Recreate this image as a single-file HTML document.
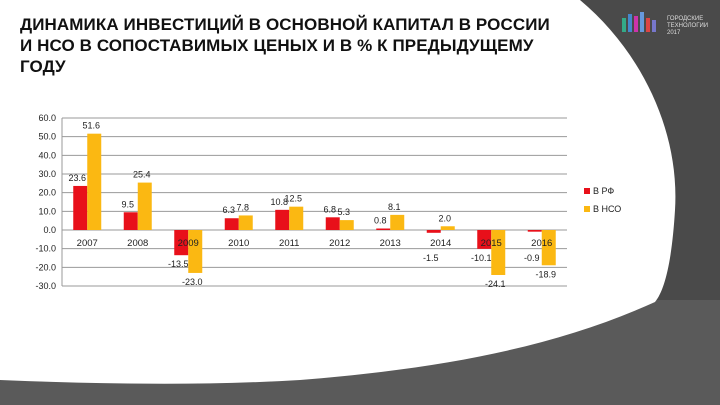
<!DOCTYPE html>
<html><head><meta charset="utf-8"><style>
body{margin:0;width:720px;height:405px;overflow:hidden;background:#4a4a4a;font-family:"Liberation Sans",sans-serif;}
#bg{position:absolute;left:0;top:0}
#title{position:absolute;left:20px;top:14px;font-size:17px;font-weight:bold;line-height:21px;color:#111;letter-spacing:0.1px}
#logo{position:absolute;left:667px;top:16px;font-size:6px;color:#ddd;line-height:7px}
</style></head><body>
<svg id="bg" width="720" height="405">
<rect x="0" y="300" width="720" height="105" fill="#5a5a5a"/>
<path d="M0 0 L580 0 C640 50 680 130 675 210 C672 260 665 290 655 302 C560 345 450 368 300 380 C200 386 100 384 0 380 Z" fill="#fff"/>
<g>
<rect x="622" y="18" width="4" height="14" fill="#3a8"/><rect x="628" y="14" width="4" height="18" fill="#48c"/><rect x="634" y="16" width="4" height="16" fill="#c3a"/><rect x="640" y="12" width="4" height="20" fill="#69d"/><rect x="646" y="18" width="4" height="14" fill="#d44"/><rect x="652" y="20" width="4" height="12" fill="#77c"/>
</g>
</svg>
<div id="title">ДИНАМИКА ИНВЕСТИЦИЙ В ОСНОВНОЙ КАПИТАЛ В РОССИИ<br>И НСО В СОПОСТАВИМЫХ ЦЕНЫХ И В % К ПРЕДЫДУЩЕМУ<br>ГОДУ</div>
<div id="logo">ГОРОДСКИЕ<br>ТЕХНОЛОГИИ<br>2017</div>
<svg id="chart" width="720" height="405" style="position:absolute;left:0;top:0"></svg>
<script>
const categories=["2007","2008","2009","2010","2011","2012","2013","2014","2015","2016"];
const rf=[23.6,9.5,-13.5,6.3,10.8,6.8,0.8,-1.5,-10.1,-0.9];
const nso=[51.6,25.4,-23.0,7.8,12.5,5.3,8.1,2.0,-24.1,-18.9];
const yTicks=[60,50,40,30,20,10,0,-10,-20,-30];
const svg=document.getElementById('chart');
const NS='http://www.w3.org/2000/svg';
const x0=62,x1=567,yTop=118,yBot=286,vMax=60,vMin=-30;
const y=v=>yTop+(vMax-v)/(vMax-vMin)*(yBot-yTop);
const bw=(x1-x0)/categories.length;
const cx=i=>x0+bw*(i+0.5);
function mk(t,a){const e=document.createElementNS(NS,t);for(const k in a)e.setAttribute(k,a[k]);svg.appendChild(e);return e;}
yTicks.forEach(v=>{
 const l=mk('line',{x1:x0,x2:x1,y1:y(v),y2:y(v),stroke:'#999','stroke-width':1});
 
 
 const t=mk('text',{x:x0-6,y:y(v)+3,'font-size':9,'text-anchor':'end',fill:'#222'});
 t.textContent=v.toFixed(1);
 
 
});
const ax=mk('line',{x1:x0,x2:x0,y1:yTop,y2:yBot,stroke:'#999'});


const w=14;
categories.forEach((c,i)=>{
 [[rf[i],'#e8101a',-w],[nso[i],'#fbb812',0]].forEach(([v,col,off],k)=>{
  const r=mk('rect',{x:cx(i)+off,y:Math.min(y(v),y(0)),width:w,height:Math.abs(y(v)-y(0)),fill:col});
  
  
  const t=mk('text',{x:cx(i)+off+w/2-3,y:v>=0?y(v)-5:Math.max(y(v)+12,y(0)+31),'font-size':9,'text-anchor':'middle',fill:'#222'});
  t.textContent=v.toFixed(1);
  
  
 });
 const t=mk('text',{x:cx(i),y:y(0)+16,'font-size':9.5,'text-anchor':'middle',fill:'#222'});
 t.textContent=c;
 
 
});
[['В  РФ','#e8101a',193],['В  НСО','#fbb812',211]].forEach(([n,c,yy])=>{
 const r=mk('rect',{x:584,y:yy-5,width:6,height:6,fill:c});
 
 
 const t=mk('text',{x:593,y:yy+1,'font-size':9,fill:'#222'});
 t.textContent=n;
 
 
});
</script>
</body></html>
